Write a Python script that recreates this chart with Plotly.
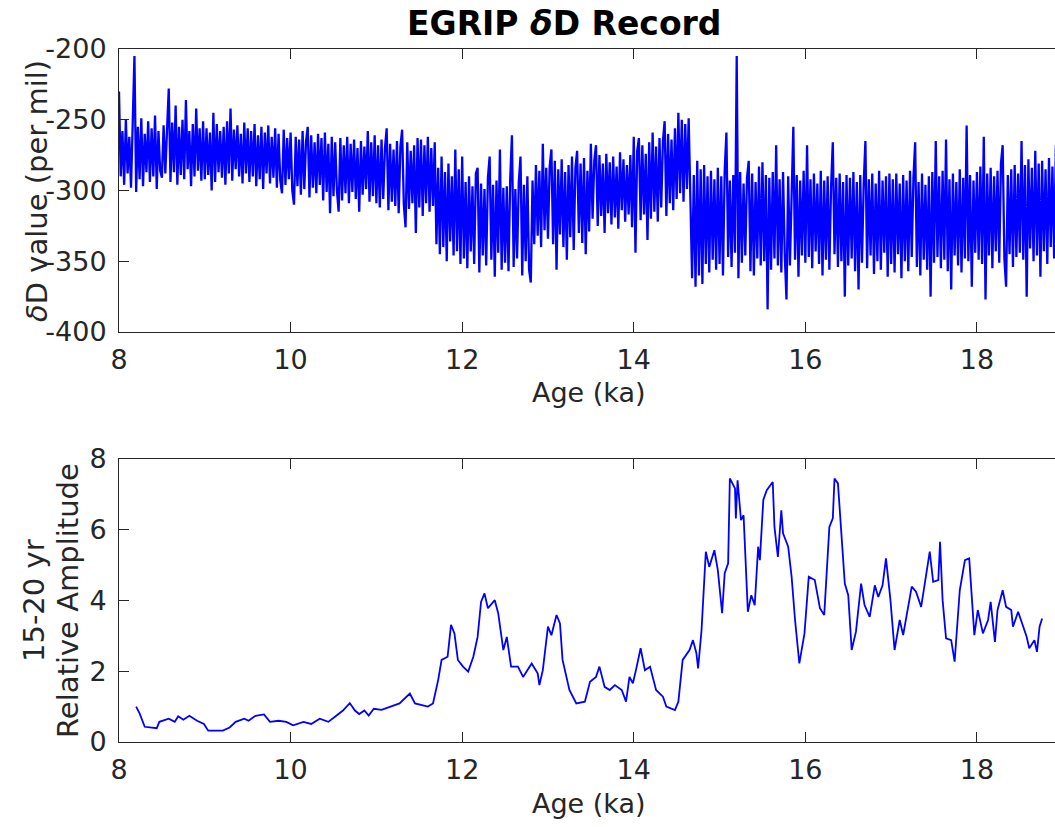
import numpy as np
import plotly.graph_objects as go

# ---------------------------------------------------------------------------
# EGRIP deltaD record (per mil), one value every 0.02 ka starting at 8.00 ka.
# Each row below spans 0.5 ka.
# ---------------------------------------------------------------------------
AGE_START = 8.0
AGE_STEP = 0.02

dD_values = [
    -230, -290, -258, -296, -250, -288, -262, -298, -252, -205, -301, -255, -292, -249, -297, -260, -287, -251, -294, -256, -290, -247, -299, -258, -286,
    -291, -254, -288, -257, -228, -294, -252, -287, -240, -296, -255, -289, -250, -292, -236, -285, -258, -297, -253, -290, -242, -286, -256, -293, -251,
    -292, -256, -289, -259, -300, -245, -294, -253, -287, -258, -291, -255, -296, -251, -288, -242, -293, -257, -285, -254, -290, -260, -295, -252, -288,
    -256, -294, -258, -290, -253, -297, -261, -292, -255, -299, -259, -288, -254, -295, -262, -291, -256, -298, -260, -293, -302, -257, -296, -263, -292,
    -259, -300, -310, -262, -297, -264, -303, -258, -299, -265, -255, -305, -261, -298, -266, -302, -260, -296, -263, -307, -259, -301, -267, -316, -262,
    -304, -266, -300, -315, -263, -307, -268, -302, -262, -309, -267, -301, -264, -306, -270, -315, -265, -303, -269, -299, -258, -308, -266, -304, -261,
    -309, -268, -312, -264, -306, -270, -256, -314, -267, -308, -271, -311, -265, -316, -269, -257, -310, -326, -266, -313, -272, -309, -268, -330, -263,
    -312, -264, -318, -268, -309, -262, -315, -270, -311, -266, -338, -284, -345, -276, -340, -287, -350, -281, -336, -290, -346, -271, -343, -285, -352,
    -276, -348, -294, -355, -290, -343, -297, -352, -288, -284, -358, -295, -346, -299, -353, -291, -276, -349, -296, -361, -293, -344, -271, -356, -298,
    -351, -297, -357, -292, -261, -354, -299, -348, -294, -276, -360, -296, -350, -290, -356, -365, -293, -338, -282, -332, -286, -340, -267, -328, -284,
    -334, -283, -271, -338, -279, -356, -285, -331, -278, -340, -287, -349, -282, -333, -276, -342, -284, -272, -330, -281, -337, -277, -345, -286, -329,
    -267, -320, -279, -268, -325, -275, -318, -281, -330, -274, -316, -280, -324, -276, -319, -283, -327, -273, -314, -278, -322, -282, -317, -275, -326,
    -262, -344, -272, -263, -321, -268, -317, -274, -335, -266, -320, -259, -315, -269, -322, -263, -312, -265, -251, -318, -260, -309, -264, -314, -256,
    -306, -245, -302, -250, -308, -253, -299, -249, -304, -362, -289, -368, -279, -360, -285, -366, -282, -352, -290, -358, -286, -349, -292, -356, -284,
    -352, -290, -360, -286, -259, -347, -293, -354, -289, -344, -205, -362, -287, -351, -295, -346, -291, -279, -357, -288, -360, -294, -348, -283, -353,
    -280, -350, -289, -384, -291, -356, -287, -348, -268, -353, -292, -358, -287, -345, -377, -290, -353, -296, -255, -349, -289, -361, -293, -346, -286,
    -351, -268, -347, -292, -355, -288, -343, -295, -352, -286, -360, -293, -349, -290, -356, -297, -266, -345, -291, -354, -288, -350, -294, -375, -289,
    -353, -291, -348, -287, -357, -294, -370, -289, -351, -296, -265, -355, -292, -346, -288, -359, -295, -350, -286, -356, -293, -344, -290, -361, -288,
    -352, -292, -358, -288, -345, -295, -362, -289, -350, -293, -357, -286, -347, -291, -266, -354, -294, -360, -288, -349, -296, -356, -290, -375, -287,
    -351, -265, -347, -290, -355, -286, -349, -264, -357, -292, -370, -288, -346, -294, -353, -285, -358, -291, -348, -254, -350, -289, -368, -293, -344,
    -287, -349, -283, -352, -262, -377, -288, -346, -284, -355, -290, -343, -286, -351, -281, -268, -348, -368, -289, -345, -285, -354, -282, -347, -288,
    -344, -265, -349, -282, -375, -278, -341, -284, -350, -272, -346, -281, -361, -279, -343, -285, -352, -277, -340, -283, -348, -268, -345, -280, -351,
]
dD_age = np.round(AGE_START + AGE_STEP * np.arange(len(dD_values)), 2)

# 15-20 yr band relative amplitude
amp_age = [
    8.20, 8.24, 8.30, 8.44, 8.47, 8.58, 8.65, 8.69, 8.75, 8.82, 8.91, 8.99, 9.04, 9.21, 9.29, 9.36,
    9.46, 9.51, 9.59, 9.69, 9.76, 9.86, 9.95, 10.03, 10.15, 10.24, 10.34, 10.44, 10.51, 10.61, 10.69,
    10.75, 10.80, 10.86, 10.91, 10.97, 11.06, 11.18, 11.27, 11.39, 11.45, 11.60, 11.66, 11.72, 11.76,
    11.83, 11.87, 11.91, 11.95, 12.01, 12.07, 12.13, 12.18, 12.22, 12.26, 12.30, 12.38, 12.42, 12.48,
    12.52, 12.57, 12.65, 12.71, 12.81, 12.88, 12.90, 12.94, 13.00, 13.04, 13.10, 13.14, 13.17, 13.25,
    13.33, 13.43, 13.49, 13.56, 13.60, 13.66, 13.72, 13.78, 13.86, 13.91, 13.95, 13.99, 14.03, 14.08,
    14.13, 14.19, 14.26, 14.34, 14.38, 14.48, 14.52, 14.57, 14.65, 14.69, 14.73, 14.75, 14.79, 14.84,
    14.88, 14.94, 14.98, 15.03, 15.06, 15.10, 15.12, 15.18, 15.19, 15.21, 15.25, 15.28, 15.33, 15.37,
    15.41, 15.45, 15.47, 15.51, 15.55, 15.62, 15.64, 15.68, 15.72, 15.74, 15.80, 15.84, 15.88, 15.93,
    15.99, 16.04, 16.11, 16.17, 16.22, 16.28, 16.32, 16.34, 16.38, 16.46, 16.50, 16.54, 16.59, 16.65,
    16.69, 16.75, 16.81, 16.85, 16.90, 16.94, 16.99, 17.04, 17.10, 17.14, 17.24, 17.29, 17.35, 17.45,
    17.49, 17.55, 17.57, 17.60, 17.64, 17.70, 17.74, 17.80, 17.86, 17.91, 17.97, 18.01, 18.07, 18.13,
    18.16, 18.21, 18.24, 18.30, 18.34, 18.40, 18.42, 18.48, 18.54, 18.58, 18.61, 18.67, 18.70, 18.73,
    18.76,
]
amp_val = [
    1.00, 0.81, 0.43, 0.39, 0.57, 0.66, 0.57, 0.73, 0.63, 0.74, 0.60, 0.51, 0.32, 0.32, 0.41, 0.57,
    0.66, 0.60, 0.74, 0.78, 0.57, 0.60, 0.57, 0.47, 0.57, 0.51, 0.66, 0.57, 0.70, 0.89, 1.10,
    0.89, 0.79, 0.89, 0.75, 0.94, 0.91, 1.01, 1.09, 1.37, 1.09, 1.00, 1.09, 1.75, 2.32,
    2.41, 3.31, 3.07, 2.32, 2.13, 1.99, 2.41, 2.97, 3.96, 4.20, 3.78, 4.01, 3.64, 2.60,
    2.97, 2.13, 2.13, 1.84, 2.22, 1.94, 1.61, 2.03, 3.26, 3.02, 3.59, 3.35, 2.32, 1.47,
    1.09, 1.14, 1.70, 1.84, 2.13, 1.56, 1.47, 1.61, 1.47, 1.14, 1.84, 1.66, 2.08, 2.65,
    2.03, 2.13, 1.47, 1.28, 1.00, 0.90, 1.14, 2.32, 2.60, 2.88, 2.51, 2.08, 3.16, 5.38,
    4.95, 5.42, 4.86, 3.64, 4.77, 5.05, 7.45, 7.17, 6.32, 7.40, 6.27, 6.41, 3.68, 4.15,
    3.87, 5.52, 5.14, 6.84, 7.12, 7.35, 6.08, 5.23, 6.55, 5.90, 5.52, 4.67, 3.45, 2.22,
    3.07, 4.67, 4.58, 3.78, 3.59, 6.08, 6.32, 7.45, 7.31, 4.48, 4.15, 2.60, 3.12, 4.48,
    3.87, 3.54, 4.43, 4.10, 4.43, 5.19, 4.06, 2.60, 3.45, 3.02, 4.39, 4.25, 3.82, 5.38,
    4.53, 4.58, 5.66, 4.01, 2.93, 2.88, 2.27, 4.29, 5.14, 5.19, 3.02, 3.73, 3.07, 3.45,
    3.96, 2.83, 3.73, 4.29, 3.82, 3.73, 3.26, 3.68, 3.26, 2.97, 2.65, 2.88, 2.55, 3.26,
    3.49,
]

age_ticks = [8, 10, 12, 14, 16, 18]
age_labels = ["8", "10", "12", "14", "16", "18"]
dD_ticks = [-400, -350, -300, -250, -200]
dD_labels = ["-400", "-350", "-300", "-250", "-200"]
amp_ticks = [0, 2, 4, 6, 8]
amp_labels = ["0", "2", "4", "6", "8"]

FONT = "DejaVu Sans, Verdana, sans-serif"
INK = "#262626"
LINE_BLUE = "#0000ff"
W, H = 1055, 827
PLOT_LEFT = 119
PLOT_W = W - PLOT_LEFT
X_RANGE = [8, 18.91]
TICK_SIZE = 27
LABEL_SIZE = 29


def y_dom(top_px, bottom_px):
    return [1 - bottom_px / H, 1 - top_px / H]


def px_x(px):
    return (px - PLOT_LEFT) / PLOT_W


def px_y(px):
    return 1 - px / H


axis_style = dict(
    showline=True, linecolor=INK, linewidth=1,
    ticks="inside", ticklen=10, tickwidth=1, tickcolor=INK,
    showgrid=False, zeroline=False, automargin=False,
    tickfont=dict(family=FONT, size=TICK_SIZE, color=INK),
)
edge_ticks = dict(side="right", ticks="inside", ticklen=7, tickcolor=INK,
                  showline=False, showgrid=False, zeroline=False,
                  showticklabels=False, automargin=False)

fig = go.Figure()
fig.add_trace(go.Scatter(
    x=dD_age, y=dD_values, mode="lines",
    line=dict(color=LINE_BLUE, width=2.3),
    xaxis="x", yaxis="y", showlegend=False, hoverinfo="skip",
))
fig.add_trace(go.Scatter(
    x=amp_age, y=amp_val, mode="lines",
    line=dict(color=LINE_BLUE, width=1.8),
    xaxis="x2", yaxis="y2", showlegend=False, hoverinfo="skip",
))


def label(text, x_px, y_px, size, angle=0, color=INK):
    return dict(text=text, xref="paper", yref="paper",
                x=px_x(x_px), y=px_y(y_px), xanchor="center", yanchor="middle",
                textangle=angle, showarrow=False,
                font=dict(family=FONT, size=size, color=color))


fig.update_layout(
    width=W, height=H,
    margin=dict(l=PLOT_LEFT, r=0, t=0, b=0),
    paper_bgcolor="white", plot_bgcolor="white",
    font=dict(family=FONT, size=TICK_SIZE, color=INK),
    xaxis=dict(axis_style, domain=[0, 1], range=X_RANGE,
               tickvals=age_ticks, ticktext=age_labels,
               mirror="ticks", anchor="y", ticklabelstandoff=4),
    yaxis=dict(axis_style, domain=y_dom(49, 332), range=[-400, -200],
               tickvals=dD_ticks, ticktext=dD_labels, anchor="x",
               ticklabelstandoff=6),
    xaxis2=dict(axis_style, domain=[0, 1], range=X_RANGE,
                tickvals=age_ticks, ticktext=age_labels,
                mirror="ticks", anchor="y2", ticklabelstandoff=4),
    yaxis2=dict(axis_style, domain=y_dom(459, 742), range=[0, 8],
                tickvals=amp_ticks, ticktext=amp_labels, anchor="x2",
                ticklabelstandoff=6),
    # tick marks on the right-hand frame edge
    yaxis3=dict(edge_ticks, overlaying="y", anchor="x", range=[-400, -200],
                tickvals=dD_ticks),
    yaxis4=dict(edge_ticks, overlaying="y2", anchor="x2", range=[0, 8],
                tickvals=amp_ticks),
    annotations=[
        label("<b>EGRIP <i>δ</i>D Record</b>", 564, 24, 33, color="black"),
        label("Age (ka)", 589, 392, TICK_SIZE),
        label("Age (ka)", 589, 803, TICK_SIZE),
        label("<i>δ</i>D value (per mil)", 37, 191, LABEL_SIZE, angle=-90),
        label("15-20 yr", 34, 601, LABEL_SIZE, angle=-90),
        label("Relative Amplitude", 68, 601, LABEL_SIZE, angle=-90),
    ],
)

fig.write_html("out.html")
